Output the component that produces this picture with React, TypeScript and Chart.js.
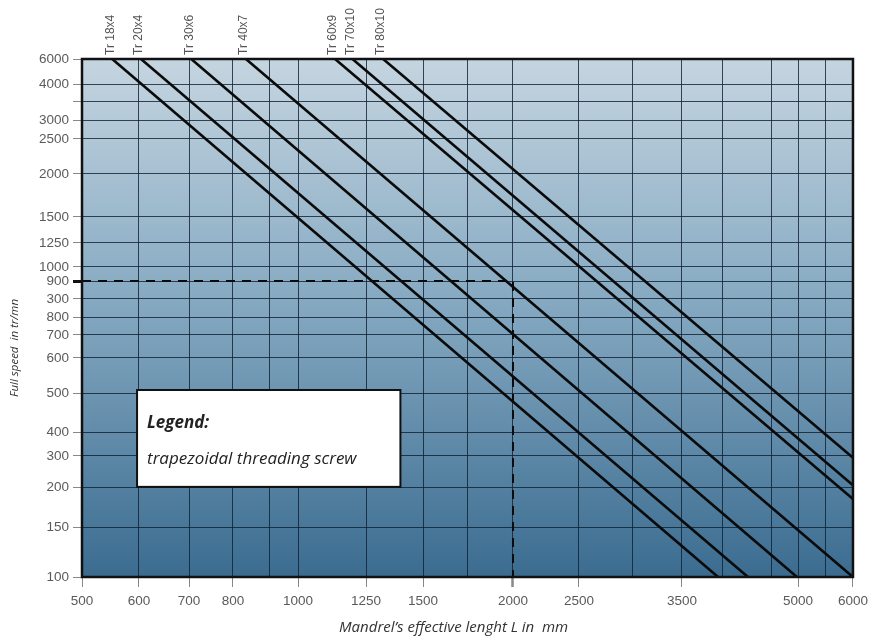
import React, { useEffect, useRef } from 'react';
import { Chart, registerables, LinearScale } from 'chart.js';

Chart.register(...registerables);

// ---------------- data ----------------
const screwNames = ['Tr 18x4', 'Tr 20x4', 'Tr 30x6', 'Tr 40x7', 'Tr 60x9', 'Tr 70x10', 'Tr 80x10'];
const startLength = [553, 604, 705, 835, 1136, 1200, 1325]; // mm
const startSpeed = [6000, 6000, 6000, 6000, 6000, 6000, 6000]; // tr/mn
const endLength = [3940, 4255, 4980, 6000, 6000, 6000, 6000]; // mm
const endSpeed = [100, 100, 100, 100, 185, 206, 294]; // tr/mn

const exampleLength = [500, 2000, 2000];
const exampleSpeed = [900, 900, 100];

const xTickValues = [500, 600, 700, 800, 900, 1000, 1250, 1500, 1750, 2000, 2500, 3000, 3500, 4000, 4500, 5000, 5500, 6000];
const xTickLabels = ['500', '600', '700', '800', '', '1000', '1250', '1500', '', '2000', '2500', '', '3500', '', '', '5000', '', '6000'];
const yTickValues = [100, 150, 200, 300, 400, 500, 600, 700, 800, 850, 900, 1000, 1250, 1500, 2000, 2500, 3000, 3500, 4000, 6000];
const yTickLabels = ['100', '150', '200', '300', '400', '500', '600', '700', '800', '300', '900', '1000', '1250', '1500', '2000', '2500', '3000', '', '4000', '6000'];

const legendTitle = 'Legend:';
const legendText = 'trapezoidal threading screw';
const xTitle = 'Mandrel\u2019s effective lenght L in  mm';
const yTitle = 'Full speed  in tr/mn';

// ---------------- axis layout (nomogram spacing) ----------------
const xTickFractions = [0, 0.0739, 0.1388, 0.1958, 0.2438, 0.2802, 0.3684, 0.4423, 0.4994, 0.559, 0.6446, 0.7134, 0.7782, 0.8314, 0.8949, 0.9287, 0.965, 1];
const yTickFractions = [0, 0.0965, 0.1737, 0.2336, 0.2799, 0.3552, 0.4228, 0.4672, 0.5019, 0.5367, 0.5714, 0.5985, 0.6448, 0.695, 0.778, 0.8456, 0.8822, 0.9189, 0.9517, 1];

const AXES: Record<string, { values: number[]; fr: number[] }> = {
  x: { values: xTickValues, fr: xTickFractions },
  y: { values: yTickValues, fr: yTickFractions },
};

class PiecewiseScale extends LinearScale {
  static id = 'piecewise';
  static defaults = {};
  determineDataLimits() {
    const a = AXES[this.id];
    this.min = a.values[0];
    this.max = a.values[a.values.length - 1];
  }
  buildTicks() {
    return AXES[this.id].values.map((v) => ({ value: v }));
  }
  getPixelForValue(value: number) {
    const { values, fr } = AXES[this.id];
    if (value === null || value === undefined || isNaN(value)) return NaN;
    let i = 0;
    while (i < values.length - 2 && value > values[i + 1]) i++;
    const t = (value - values[i]) / (values[i + 1] - values[i]);
    const f = fr[i] + t * (fr[i + 1] - fr[i]);
    return this.getPixelForDecimal(f);
  }
  getValueForPixel(pixel: number) {
    const { values, fr } = AXES[this.id];
    const f = this.getDecimalForPixel(pixel);
    let i = 0;
    while (i < fr.length - 2 && f > fr[i + 1]) i++;
    const t = (f - fr[i]) / (fr[i + 1] - fr[i]);
    return values[i] + t * (values[i + 1] - values[i]);
  }
}
Chart.register(PiecewiseScale);

const TICK_FONT = { family: '"Liberation Sans", Arial, sans-serif', size: 13.5 };

const overlayPlugin = {
  id: 'overlay',
  beforeDraw(chart: any) {
    const { ctx, chartArea: a } = chart;
    ctx.save();
    const g = ctx.createLinearGradient(0, a.top, 0, a.bottom);
    g.addColorStop(0, '#c5d5e0');
    g.addColorStop(0.45, '#88abc3');
    g.addColorStop(1, '#3b6c90');
    ctx.fillStyle = g;
    ctx.fillRect(a.left, a.top, a.right - a.left, a.bottom - a.top);
    ctx.restore();
  },
  afterDraw(chart: any) {
    const { ctx, chartArea: a } = chart;
    const w = a.right - a.left;
    const h = a.bottom - a.top;
    ctx.save();
    // plot border
    ctx.strokeStyle = '#111';
    ctx.lineWidth = 2.5;
    ctx.strokeRect(a.left, a.top, w, h);

    // legend box
    const bx = a.left + 0.0714 * w;
    const by = a.top + 0.639 * h;
    const bw = 0.3416 * w;
    const bh = 0.187 * h;
    ctx.fillStyle = '#ffffff';
    ctx.fillRect(bx, by, bw, bh);
    ctx.strokeStyle = '#111';
    ctx.lineWidth = 2;
    ctx.strokeRect(bx, by, bw, bh);
    ctx.fillStyle = '#222';
    ctx.textAlign = 'left';
    ctx.textBaseline = 'alphabetic';
    ctx.font = 'italic bold 17px "Open Sans", sans-serif';
    ctx.fillText(legendTitle, bx + 10, by + 38);
    ctx.font = 'italic 17px "Open Sans", sans-serif';
    ctx.fillText(legendText, bx + 10, by + 74);

    // series labels above the plot
    const xs = chart.scales.x;
    ctx.font = '12px "Liberation Sans", Arial, sans-serif';
    ctx.fillStyle = '#555';
    ctx.textBaseline = 'middle';
    ctx.textAlign = 'left';
    screwNames.forEach((name, i) => {
      const px = xs.getPixelForValue(startLength[i]) - 2;
      ctx.save();
      ctx.translate(px, a.top - 4);
      ctx.rotate(-Math.PI / 2);
      ctx.fillText(name, 0, 0);
      ctx.restore();
    });

    // axis titles
    ctx.fillStyle = '#333';
    ctx.textAlign = 'center';
    ctx.textBaseline = 'middle';
    ctx.font = 'italic 15px "Open Sans", sans-serif';
    ctx.fillText(xTitle, a.left + 0.482 * w, a.bottom + 51);
    ctx.save();
    ctx.translate(15, a.top + 0.558 * h);
    ctx.rotate(-Math.PI / 2);
    ctx.font = 'italic 11.5px "Open Sans", sans-serif';
    ctx.fillText(yTitle, 0, 0);
    ctx.restore();
    ctx.restore();
  },
};

export default function App() {
  const ref = useRef<HTMLCanvasElement | null>(null);
  useEffect(() => {
    if (!ref.current) return;
    const screwSets = screwNames.map((name, i) => ({
      label: name,
      data: [
        { x: startLength[i], y: startSpeed[i] },
        { x: endLength[i], y: endSpeed[i] },
      ],
      borderColor: '#0a0a0a',
      borderWidth: 2.6,
      pointRadius: 0,
      tension: 0,
      fill: false,
    }));
    const exampleSet = {
      label: 'example',
      data: exampleLength.map((x, i) => ({ x, y: exampleSpeed[i] })),
      borderColor: '#0a0a0a',
      borderWidth: 2,
      borderDash: [9, 7],
      pointRadius: 0,
      tension: 0,
      fill: false,
    };
    const chart = new Chart(ref.current, {
      type: 'line',
      data: { datasets: [...screwSets, exampleSet] as any },
      plugins: [overlayPlugin],
      options: {
        animation: false,
        responsive: false,
        events: [],
        layout: { padding: { top: 59, right: 21, left: 0, bottom: 0 } },
        plugins: { legend: { display: false }, tooltip: { enabled: false }, title: { display: false } },
        scales: {
          x: {
            type: 'piecewise' as any,
            position: 'bottom',
            afterFit: (s: any) => { s.height = 59; },
            border: { display: false },
            grid: {
              color: 'rgba(15,30,48,0.8)',
              lineWidth: 1,
              tickLength: 10,
              tickColor: (c: any) => (xTickLabels[c.index] ? '#888' : 'rgba(0,0,0,0)'),
              tickWidth: (c: any) => (c.tick && c.tick.value === 2000 ? 2.5 : 1),
            },
            ticks: {
              autoSkip: false,
              maxRotation: 0,
              minRotation: 0,
              padding: 6,
              color: '#5a5a5a',
              font: TICK_FONT,
              callback: (_v: any, i: number) => xTickLabels[i],
            },
          } as any,
          y: {
            type: 'piecewise' as any,
            position: 'left',
            afterFit: (s: any) => { s.width = 82; },
            border: { display: false },
            grid: {
              color: 'rgba(15,30,48,0.8)',
              lineWidth: 1,
              tickLength: 9,
              tickColor: (c: any) => (c.tick && c.tick.value === 900 ? '#111' : '#888'),
              tickWidth: (c: any) => (c.tick && c.tick.value === 900 ? 3 : 1),
            },
            ticks: {
              autoSkip: false,
              padding: 4,
              color: '#5a5a5a',
              font: TICK_FONT,
              callback: (_v: any, i: number) => yTickLabels[i],
            },
          } as any,
        },
      },
    });
    return () => chart.destroy();
  }, []);
  return (
    <div style={{ position: 'absolute', left: 0, top: 0, width: 874, height: 636, background: '#fff' }}>
      <canvas ref={ref} width={874} height={636} style={{ display: 'block' }} />
    </div>
  );
}
